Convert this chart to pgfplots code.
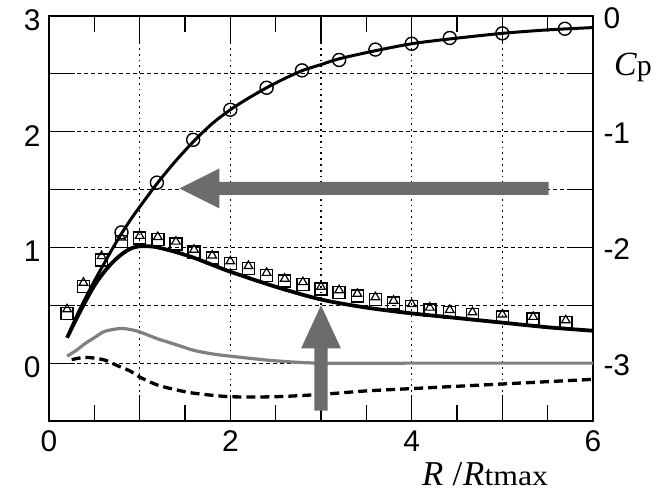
\documentclass[border=0pt]{standalone}
\usepackage{fontspec}
\setmainfont{Liberation Sans}
\newfontfamily\tnr{Liberation Serif}
\newfontfamily\tnrw{Liberation Serif}[FakeStretch=1.1]
\usepackage{pgfplots}
\pgfplotsset{compat=1.18}
\definecolor{arrowgray}{RGB}{108,108,108}
\definecolor{linegray}{RGB}{128,128,128}
\begin{document}
\begin{tikzpicture}
\useasboundingbox (-49bp,-76bp) rectangle (608bp,421bp);
\pgfplotsset{base/.style={width=544bp,height=405bp,scale only axis,xmin=0,xmax=6,
  /pgf/number format/assume math mode=true,
  clip mode=individual,
  axis line style={line width=1.3bp},
  tick style={black,line width=1.2bp},
  ticklabel style={font=\fontsize{30}{30}\selectfont},
  major tick length=26bp, minor tick length=16bp}}
% right axis: labels and horizontal grid
\begin{axis}[base, ymin=-3.5, ymax=0, xtick=\empty,
  ytick={-3,-2.5,-2,-1.5,-1,-0.5,0}, yticklabels={-3,,-2,,-1,,0},
  ytick pos=right, yticklabel pos=right,
  yticklabel style={yshift=-2bp, xshift=7bp},
  ymajorgrids, major grid style={dash pattern=on 4bp off 3bp, line width=1.1bp, black}]
\end{axis}
% main axis
\begin{axis}[base, ymin=-0.5, ymax=3,
  xtick={0,1,2,3,4,5,6}, xticklabels={0,,2,,4,,6},
  minor xtick={0.5,1.5,2.5,3.5,4.5,5.5},
  xtick pos=both, xticklabel pos=bottom,
  xticklabel style={yshift=-6bp},
  ytick={0,0.5,1,1.5,2,2.5,3}, yticklabels={0,,1,,2,,3},
  ytick pos=left, yticklabel pos=left,
  yticklabel style={yshift=-4bp, xshift=-5bp},
  xmajorgrids, major grid style={dash pattern=on 1.8bp off 4bp, line width=1.2bp, black}]

\addplot[linegray, line width=3.2bp, smooth] coordinates {
(0.2,0.06)(0.3,0.11)(0.4,0.17)(0.5,0.22)(0.6,0.27)(0.7,0.29)(0.8,0.30)(0.9,0.29)(1.0,0.27)(1.2,0.21)(1.4,0.16)(1.6,0.11)(1.8,0.08)(2.0,0.06)(2.5,0.02)(3.0,0.0)(4.0,0.0)(5.0,0.0)(6.0,0.0)};

\addplot[black, line width=3.3bp, dash pattern=on 9bp off 5bp, smooth] coordinates {
(0.25,0.03)(0.4,0.05)(0.6,0.03)(0.75,-0.02)(0.9,-0.07)(1.0,-0.12)(1.2,-0.19)(1.4,-0.23)(1.6,-0.26)(2.0,-0.29)(2.5,-0.29)(3.0,-0.27)(3.5,-0.24)(4.0,-0.22)(4.5,-0.20)(5.0,-0.18)(5.5,-0.16)(6.0,-0.14)};

\addplot[only marks, mark=square, mark size=6bp, mark options={line width=1.4bp, black}] coordinates {
(0.2,0.43)(0.38,0.66)(0.58,0.89)(0.8,1.05)(1.0,1.08)(1.2,1.07)(1.4,1.03)(1.6,0.96)(1.8,0.91)(2.0,0.86)(2.2,0.82)(2.4,0.76)(2.6,0.71)(2.8,0.68)(3.0,0.64)(3.2,0.61)(3.4,0.58)(3.6,0.55)(3.8,0.52)(4.0,0.49)(4.2,0.46)(4.42,0.44)(4.67,0.42)(5.0,0.40)(5.34,0.38)(5.7,0.35)};

\addplot[only marks, mark=triangle, mark size=5bp, mark options={line width=1.2bp, black}] coordinates {
(0.2,0.465)(0.38,0.695)(0.58,0.925)(0.8,1.085)(1.0,1.10)(1.2,1.09)(1.4,1.05)(1.6,0.98)(1.8,0.93)(2.0,0.88)(2.2,0.84)(2.4,0.78)(2.6,0.73)(2.8,0.70)(3.0,0.66)(3.2,0.63)(3.4,0.60)(3.6,0.57)(3.8,0.54)(4.0,0.51)(4.2,0.48)(4.42,0.46)(4.67,0.44)(5.0,0.42)(5.34,0.40)(5.7,0.37)};

\addplot[black, line width=3.8bp, smooth] coordinates {
(0.2,0.22)(0.3,0.38)(0.4,0.53)(0.5,0.67)(0.6,0.78)(0.7,0.87)(0.8,0.94)(0.9,0.99)(1.0,1.01)(1.1,1.01)(1.2,1.00)(1.4,0.96)(1.6,0.91)(1.8,0.85)(2.0,0.79)(2.5,0.66)(3.0,0.55)(3.5,0.48)(4.0,0.43)(4.5,0.39)(5.0,0.35)(5.5,0.31)(6.0,0.28)};

\addplot[black, line width=3bp, smooth] coordinates {
(0.2,0.22)(0.3,0.40)(0.4,0.56)(0.5,0.71)(0.6,0.85)(0.7,0.99)(0.8,1.12)(0.9,1.24)(1.0,1.35)(1.2,1.56)(1.4,1.75)(1.6,1.92)(1.8,2.07)(2.0,2.19)(2.2,2.29)(2.4,2.38)(2.6,2.46)(2.8,2.53)(3.0,2.58)(3.2,2.63)(3.6,2.70)(4.0,2.76)(4.4,2.80)(5.0,2.85)(5.5,2.88)(6.0,2.90)};

\addplot[only marks, mark=o, mark size=6.5bp, mark options={line width=1.4bp, black}] coordinates {
(0.8,1.13)(1.19,1.56)(1.59,1.93)(2.0,2.19)(2.4,2.38)(2.79,2.53)(3.2,2.62)(3.6,2.71)(4.0,2.76)(4.42,2.81)(5.0,2.85)(5.69,2.89)};

\fill[arrowgray] (axis cs:5.51,1.454) -- (axis cs:1.88,1.454) -- (axis cs:1.88,1.337) -- (axis cs:1.44,1.51) -- (axis cs:1.88,1.683) -- (axis cs:1.88,1.566) -- (axis cs:5.51,1.566) -- cycle;
\fill[arrowgray] (axis cs:2.928,-0.41) -- (axis cs:2.928,0.127) -- (axis cs:2.78,0.127) -- (axis cs:3,0.5) -- (axis cs:3.22,0.127) -- (axis cs:3.072,0.127) -- (axis cs:3.072,-0.41) -- cycle;

\node[anchor=base west, xshift=21bp, inner sep=0pt] at (rel axis cs:1,0.852) {\tnr\fontsize{34}{34}\selectfont\itshape C\upshape\fontsize{30}{30}\selectfont p};
\node[anchor=base west, yshift=-64bp, inner sep=0pt] at (rel axis cs:0.6857,0) {\tnr\fontsize{35}{35}\selectfont\itshape R\upshape\hspace{9bp}/\hspace{1bp}\itshape R\tnrw\upshape\fontsize{29}{29}\selectfont tmax};
\end{axis}
\end{tikzpicture}
\end{document}
